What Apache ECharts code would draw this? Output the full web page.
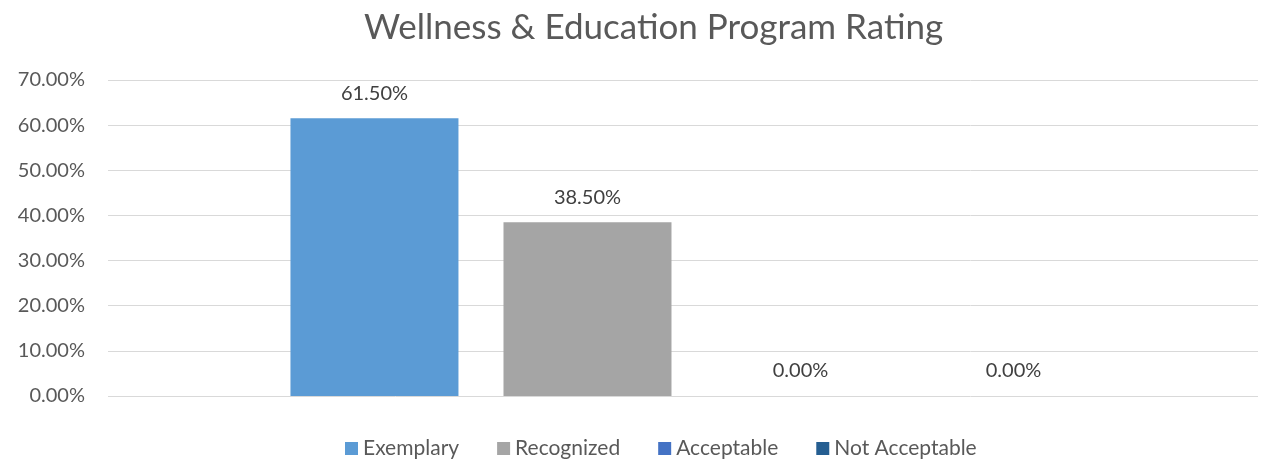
<!DOCTYPE html>
<html>
<head>
<meta charset="utf-8">
<script src="https://cdn.jsdelivr.net/npm/echarts@6/dist/echarts.min.js"></script>
<style>html,body{margin:0;padding:0;background:#fff;}#c{width:1263px;height:460px;}</style>
</head>
<body>
<div id="c"></div>
<script>
var titleText = 'Wellness & Education Program Rating';
var categories = ['Rating'];
var seriesNames = ['Exemplary', 'Recognized', 'Acceptable', 'Not Acceptable'];
var exemplary = [0.615];
var recognized = [0.385];
var acceptable = [0];
var notAcceptable = [0];
var yTicks = [0, 0.1, 0.2, 0.3, 0.4, 0.5, 0.6, 0.7];
var colors = ['#5B9BD5', '#A5A5A5', '#4472C4', '#255E91'];

var FONT = 'Lato';
var chart = echarts.init(document.getElementById('c'));
var values = [exemplary, recognized, acceptable, notAcceptable];
var series = seriesNames.map(function (n, i) {
  return {
    name: n, type: 'bar', xAxisIndex: 1, yAxisIndex: 1,
    data: values[i], barWidth: 168, barGap: '26.8%',
    itemStyle: { color: colors[i] },
    label: {
      show: true, position: 'top', distance: 15,
      fontFamily: FONT, fontSize: 20, color: '#404040',
      formatter: function (p) { return (p.value * 100).toFixed(2) + '%'; }
    }
  };
});
chart.setOption({
  animation: false,
  color: colors,
  title: {
    text: titleText, left: 359, top: 5,
    textStyle: { fontFamily: FONT, fontSize: 35, fontWeight: 'normal', color: '#595959' }
  },
  legend: {
    data: seriesNames, top: 433, left: 340,
    icon: 'rect', itemWidth: 13, itemHeight: 13, itemGap: 38,
    textStyle: { fontFamily: FONT, fontSize: 21, color: '#595959' }
  },
  grid: [
    { left: 108, right: 5, top: 80, bottom: 64 },
    { left: 130, right: 5, top: 80, bottom: 64 }
  ],
  xAxis: [
    { type: 'category', gridIndex: 0, data: categories, show: false },
    { type: 'category', gridIndex: 1, data: categories, show: false }
  ],
  yAxis: [
    {
      type: 'value', gridIndex: 0, min: yTicks[0], max: yTicks[yTicks.length - 1], interval: 0.1,
      axisLine: { show: false }, axisTick: { show: false },
      splitLine: { lineStyle: { color: '#D9D9D9', width: 1 } },
      axisLabel: {
        fontFamily: FONT, fontSize: 20, color: '#595959', margin: 23,
        formatter: function (v) { return (v * 100).toFixed(2) + '%'; }
      }
    },
    {
      type: 'value', gridIndex: 1, min: yTicks[0], max: yTicks[yTicks.length - 1], interval: 0.1,
      show: false, splitLine: { show: false }
    }
  ],
  series: series
});
</script>
</body>
</html>
